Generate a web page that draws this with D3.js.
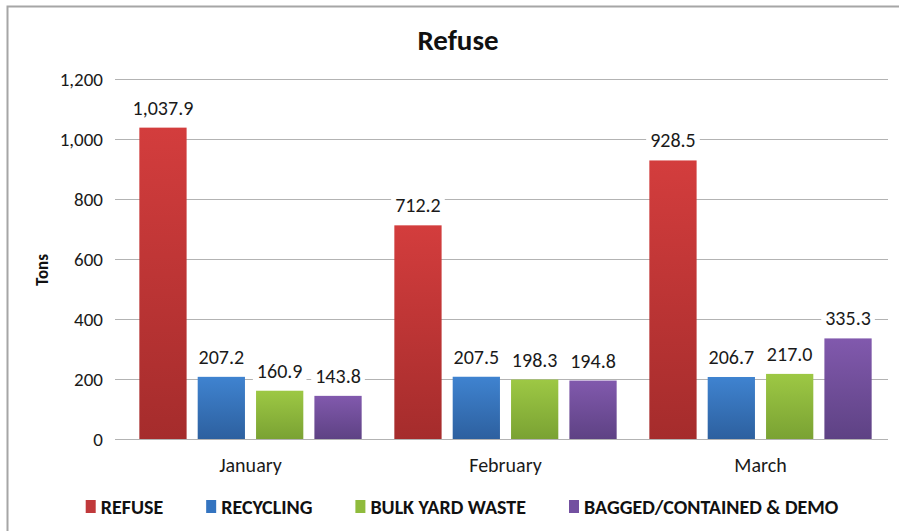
<!DOCTYPE html>
<html>
<head>
<meta charset="utf-8">
<script src="https://cdn.jsdelivr.net/npm/d3@7"></script>
<style>
  body { margin: 0; background: #fff; }
  svg { display: block; font-family: Carlito, Calibri, Lato, "Open Sans", sans-serif; }
</style>
</head>
<body>
<div class="graph"></div>
<script>
const months = ["January", "February", "March"];
const seriesNames = ["REFUSE", "RECYCLING", "BULK YARD WASTE", "BAGGED/CONTAINED & DEMO"];
const refuse = [1037.9, 712.2, 928.5];
const recycling = [207.2, 207.5, 206.7];
const bulkYard = [160.9, 198.3, 217.0];
const bagged = [143.8, 194.8, 335.3];
const yTicks = [0, 200, 400, 600, 800, 1000, 1200];

const allSeries = [refuse, recycling, bulkYard, bagged];
// colours: top / bottom of the gradient
const colors = [
  ["#d33d3d", "#a52c2c"],
  ["#3f83d0", "#2d609f"],
  ["#9dc844", "#7aa233"],
  ["#8159ad", "#5e4284"]
];
const legendColors = ["#c0393b", "#3474c0", "#8fbb3c", "#7350a0"];

const width = 899, height = 531;
const margin = { left: 123, right: 11, top: 79, bottom: 92 };

let svg = d3.select(".graph").append("svg")
  .attr("width", width)
  .attr("height", height);

// outer frame (only top and left show in the picture)
svg.append("path")
  .attr("d", "M7.5," + height + "V6.5H" + width)
  .attr("fill", "none")
  .attr("stroke", "#a6a6a6")
  .attr("stroke-width", 2);

let defs = svg.append("defs");
colors.forEach(function(c, i) {
  let g = defs.append("linearGradient")
    .attr("id", "grad" + i)
    .attr("x1", 0).attr("y1", 0).attr("x2", 0).attr("y2", 1);
  g.append("stop").attr("offset", "0%").attr("stop-color", c[0]);
  g.append("stop").attr("offset", "100%").attr("stop-color", c[1]);
});

let y = d3.scaleLinear().domain([0, 1200]).range([height - margin.bottom, margin.top]);
let x0 = d3.scaleBand().domain(months).range([margin.left, width - margin.right]);
let x1 = d3.scaleBand().domain(d3.range(4)).range([0, x0.bandwidth()])
  .paddingInner(0.19).paddingOuter(0.28);

let fmt = d3.format(",.1f");

// gridlines
svg.append("g").selectAll("line")
  .data(yTicks)
  .enter().append("line")
  .attr("x1", margin.left - 8)
  .attr("x2", width - margin.right)
  .attr("y1", d => Math.round(y(d)) + 0.5)
  .attr("y2", d => Math.round(y(d)) + 0.5)
  .attr("stroke", "#b3b3b3")
  .attr("stroke-width", 1);

// y axis tick labels
let yAxis = svg.append("g")
  .attr("transform", "translate(" + (margin.left - 8) + ",0)")
  .call(d3.axisLeft(y).tickValues(yTicks).tickFormat(d3.format(",")).tickSize(0).tickPadding(12));
yAxis.select(".domain").remove();
yAxis.selectAll("text")
  .attr("font-size", 19)
  .attr("font-family", "Carlito, Calibri, Lato, sans-serif")
  .attr("fill", "#1a1a1a");

// x axis labels
let xAxis = svg.append("g")
  .attr("transform", "translate(0," + y(0) + ")")
  .call(d3.axisBottom(x0).tickSize(0).tickPadding(19));
xAxis.select(".domain").remove();
xAxis.selectAll("text")
  .attr("font-size", 20)
  .attr("font-family", "Carlito, Calibri, Lato, sans-serif")
  .attr("fill", "#1a1a1a");

// bars
let groups = svg.append("g").selectAll("g")
  .data(months)
  .enter().append("g")
  .attr("transform", d => "translate(" + x0(d) + ",0)");

groups.selectAll("rect")
  .data((m, mi) => allSeries.map((s, si) => ({ s: si, v: s[mi] })))
  .enter().append("rect")
  .attr("x", d => x1(d.s))
  .attr("width", x1.bandwidth())
  .attr("y", d => y(d.v))
  .attr("height", d => y(0) - y(d.v))
  .attr("fill", d => "url(#grad" + d.s + ")");

// value labels with white boxes
let labels = groups.selectAll(".lbl")
  .data((m, mi) => allSeries.map((s, si) => ({ s: si, v: s[mi] })))
  .enter().append("g")
  .attr("class", "lbl");

labels.each(function(d) {
  let g = d3.select(this);
  let cx = x1(d.s) + x1.bandwidth() / 2;
  let t = g.append("text")
    .attr("x", cx)
    .attr("y", y(d.v) - 13)
    .attr("text-anchor", "middle")
    .attr("font-size", 20)
    .attr("fill", "#1a1a1a")
    .text(fmt(d.v));
  let bb = t.node().getBBox();
  g.insert("rect", "text")
    .attr("x", bb.x - 4)
    .attr("y", bb.y)
    .attr("width", bb.width + 8)
    .attr("height", bb.height)
    .attr("fill", "#fff");
});

// title
svg.append("text")
  .attr("x", 458)
  .attr("y", 50)
  .attr("text-anchor", "middle")
  .attr("font-size", 29)
  .attr("font-weight", "bold")
  .attr("fill", "#111")
  .text("Refuse");

// y axis title
svg.append("text")
  .attr("transform", "translate(48,270) rotate(-90)")
  .attr("text-anchor", "middle")
  .attr("font-size", 17)
  .attr("font-weight", "bold")
  .attr("fill", "#111")
  .text("Tons");

// legend
let legend = svg.append("g");
let lx = 0;
const gap = 43;
seriesNames.forEach(function(name, i) {
  let it = legend.append("g");
  it.append("rect")
    .attr("x", 0).attr("y", -7)
    .attr("width", 10).attr("height", 13)
    .attr("fill", legendColors[i]);
  let t = it.append("text")
    .attr("x", 15)
    .attr("y", 7)
    .attr("font-size", 20)
    .attr("font-weight", "bold")
    .attr("fill", "#111")
    .text(name);
  let w = 15 + t.node().getComputedTextLength();
  it.attr("transform", "translate(" + lx + ",0)");
  lx += w + gap;
});
let total = lx - gap;
legend.attr("transform", "translate(" + (462 - total / 2) + ",507)");
</script>
</body>
</html>
